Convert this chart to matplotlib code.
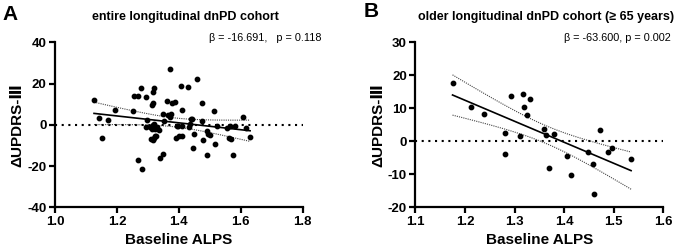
import numpy as np
import matplotlib
matplotlib.use("Agg")
import matplotlib.pyplot as plt

plt.rcParams["font.family"] = ["Liberation Sans", "DejaVu Sans"]

# painel A - coorte inteira
alps_a = [1.126, 1.143, 1.151, 1.170, 1.195, 1.251, 1.254, 1.268, 1.279, 1.268,
          1.281, 1.293, 1.294, 1.297, 1.316, 1.309, 1.316, 1.319, 1.324, 1.327,
          1.313, 1.318, 1.321, 1.318, 1.308, 1.312, 1.319, 1.322, 1.328, 1.337,
          1.339, 1.348, 1.349, 1.351, 1.363, 1.370, 1.366, 1.370, 1.376, 1.379,
          1.387, 1.393, 1.398, 1.391, 1.402, 1.411, 1.407, 1.410, 1.411, 1.431,
          1.433, 1.436, 1.439, 1.443, 1.445, 1.450, 1.458, 1.475, 1.476, 1.478,
          1.490, 1.490, 1.495, 1.499, 1.513, 1.517, 1.522, 1.555, 1.561, 1.565,
          1.567, 1.575, 1.581, 1.606, 1.617, 1.630]
dupdrs_a = [12.3, 3.2, -6.6, 2.6, 7.3, 6.6, 14.0, 14.0, 17.9, -16.8,
            -21.5, 13.7, -1.1, 2.6, -0.2, -6.9, -7.1, -6.6, -5.6, -5.3,
            9.4, 10.8, 18.1, 15.8, -1.1, -1.8, 0.3, -2.1, -1.0, -2.3,
            -16.3, -13.9, 5.5, 1.9, 11.5, 27.1, 4.7, 3.9, 5.3, 10.5,
            11.0, -0.6, -0.5, -6.3, -5.6, -5.2, 18.7, 7.1, -0.5, 18.5,
            -1.1, 0.6, 2.7, 2.9, -11.0, -4.5, 22.4, 10.8, 1.9, -7.3,
            -3.2, -14.4, -4.2, -5.0, 6.6, -9.4, -0.5, -1.3, -6.5, -0.5,
            -6.9, -14.8, -0.5, 3.7, -1.3, -6.0]

# painel B - coorte >= 65 anos
alps_b = [1.175, 1.213, 1.238, 1.281, 1.280, 1.292, 1.312, 1.318, 1.320, 1.326,
          1.331, 1.359, 1.364, 1.370, 1.380, 1.406, 1.414, 1.449, 1.458, 1.460,
          1.472, 1.488, 1.497, 1.535]
dupdrs_b = [17.7, 10.5, 8.2, 2.4, -3.7, 13.9, 1.7, 14.3, 10.4, 8.0,
            12.9, 3.7, 1.9, -8.1, 2.1, -4.3, -10.1, -3.1, -7.0, -16.0,
            3.3, -3.1, -2.1, -5.2]

titles = ["entire longitudinal dnPD cohort", "older longitudinal dnPD cohort (\u2265 65 years)"]
stats = ["\u03b2 = -16.691,   p = 0.118", "\u03b2 = -63.600, p = 0.002"]
t_crit = [1.992, 2.074]

fig = plt.figure(figsize=(6.75, 2.48), dpi=100)

paineis = [
    (alps_a, dupdrs_a, [0.0815, 0.164, 0.367, 0.665], (1.0, 1.8), [1.0, 1.2, 1.4, 1.6, 1.8], (-40, 40), [-40, -20, 0, 20, 40]),
    (alps_b, dupdrs_b, [0.6153, 0.164, 0.3674, 0.665], (1.1, 1.6), [1.1, 1.2, 1.3, 1.4, 1.5, 1.6], (-20, 30), [-20, -10, 0, 10, 20, 30]),
]
stat_x = [0.476, 0.993]

for i, (x, y, rect, xlim, xt, ylim, yt) in enumerate(paineis):
    x = np.array(x)
    y = np.array(y)
    ax = fig.add_axes(rect)
    ax.axhline(0, color="black", lw=1.5, ls=(0, (1, 2.2)), zorder=1)
    ax.scatter(x, y, s=10, color="black", zorder=3)

    # regressao linear + IC 95%
    b, a = np.polyfit(x, y, 1)
    xs = np.linspace(x.min(), x.max(), 100)
    ys = a + b * xs
    n = len(x)
    resid = y - (a + b * x)
    s = np.sqrt(np.sum(resid ** 2) / (n - 2))
    se = s * np.sqrt(1 / n + (xs - x.mean()) ** 2 / np.sum((x - x.mean()) ** 2))
    ax.plot(xs, ys, color="black", lw=1.2, zorder=2)
    ax.plot(xs, ys + t_crit[i] * se, color="#444444", lw=0.8, ls=(0, (1, 1)), zorder=2)
    ax.plot(xs, ys - t_crit[i] * se, color="#444444", lw=0.8, ls=(0, (1, 1)), zorder=2)

    ax.set_xlim(xlim)
    ax.set_ylim(ylim)
    ax.set_xticks(xt)
    ax.set_yticks(yt)
    ax.set_xticklabels([f"{v:.1f}" for v in xt], fontsize=9.5, fontweight="bold")
    ax.set_yticklabels([str(v) for v in yt], fontsize=9.5, fontweight="bold")
    for lado in ["top", "right"]:
        ax.spines[lado].set_visible(False)
    for lado in ["left", "bottom"]:
        ax.spines[lado].set_linewidth(1.6)
    ax.tick_params(width=1.6, length=4, pad=2)
    ax.set_xlabel("Baseline ALPS", fontsize=11, fontweight="bold", labelpad=4)
    ax.set_ylabel("\u0394UPDRS-\u2162", fontsize=11, fontweight="bold", labelpad=2)

    cx = rect[0] + rect[2] / 2 + 0.01
    fig.text(cx, 0.93, titles[i], ha="center", va="center", fontsize=9, fontweight="bold")
    fig.text(stat_x[i], 0.845, stats[i], ha="right", va="center", fontsize=7.8)

fig.text(0.003, 0.94, "A", fontsize=15, fontweight="bold", va="center")
fig.text(0.538, 0.955, "B", fontsize=15, fontweight="bold", va="center")

fig.savefig("out.png", dpi=100)
